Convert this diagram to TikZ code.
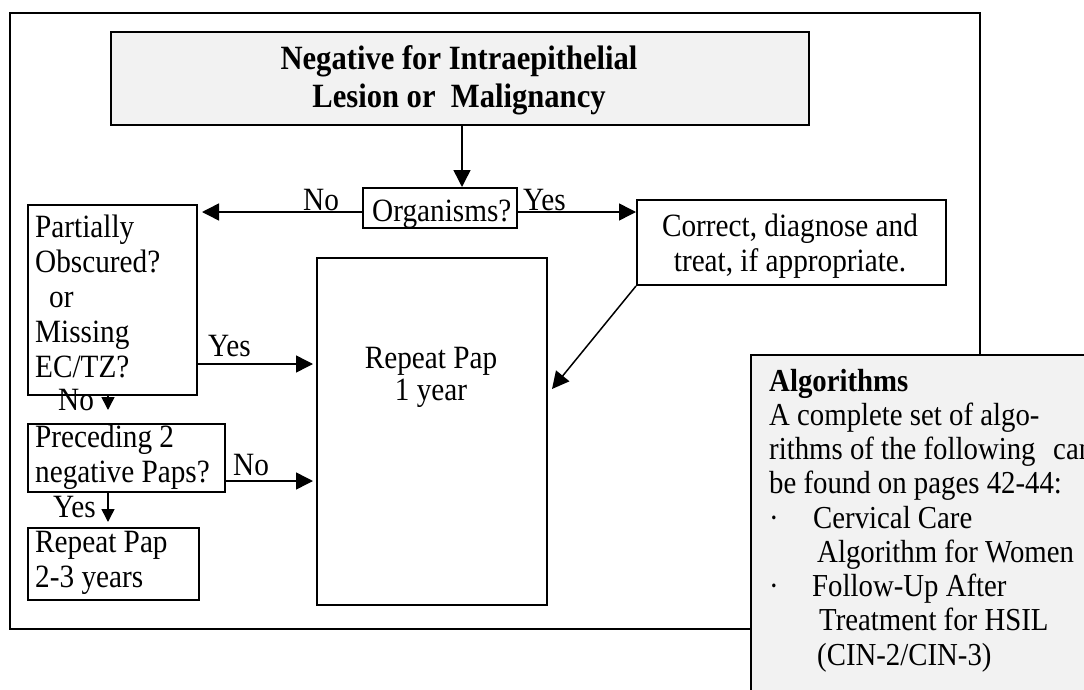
\documentclass[tikz,border=0pt]{standalone}
\usepackage{fontspec}
\setmainfont{Liberation Serif}[FakeStretch=0.9]
\usetikzlibrary{arrows.meta}
\definecolor{panel}{HTML}{F2F2F2}
\tikzset{
  frame/.style={draw, line width=2pt},
  box/.style={draw, line width=2pt, inner sep=0pt, anchor=north west},
  % multi-line texts are placed by the baseline of their last line
  txt/.style={inner sep=0pt, font=\fontsize{32.5}{35}\selectfont, align=left, anchor=base west},
  ctxt/.style={inner sep=0pt, font=\fontsize{32.5}{35}\selectfont, align=center, anchor=base},
  ttl/.style={inner sep=0pt, font=\fontsize{34}{38}\selectfont\bfseries, align=center, anchor=base},
  lbl/.style={inner sep=0pt, font=\fontsize{32.5}{35}\selectfont, anchor=base west},
  note/.style={inner sep=0pt, font=\fontsize{32}{34.25}\selectfont, align=left, anchor=base west},
  arr/.style={line width=1.5pt, -{Triangle[length=17pt,width=17pt]}},
  sarr/.style={line width=1.5pt, -{Triangle[length=13pt,width=13pt]}},
}
\begin{document}
\begin{tikzpicture}[x=1pt,y=-1pt]
\useasboundingbox (0,0) rectangle (1084,690);
\fill[white] (0,0) rectangle (1084,690);

% outer frame
\draw[frame] (10,13) rectangle (980,629);

% boxes
\node[box, fill=panel, minimum width=698, minimum height=93] (top) at (110,31) {};
\node[box, minimum width=154, minimum height=40] (org) at (362,187) {};
\node[box, minimum width=169, minimum height=190] (part) at (27,204) {};
\node[box, minimum width=309, minimum height=85] (corr) at (636,199) {};
\node[box, minimum width=230, minimum height=347] (rep1) at (316,257) {};
\node[box, minimum width=197, minimum height=68] (prec) at (27,423) {};
\node[box, minimum width=171, minimum height=72] (rep2) at (27,527) {};

% box texts
\node[ttl] (topt) at (459,108) {Negative for Intraepithelial\\Lesion or\ \ Malignancy};
\node[txt] (orgt) at (372,221) {Organisms?};
\node[txt] (partt) at (35,377) {Partially\\Obscured?\\\hspace*{14pt}or\\Missing\\EC/TZ?};
\node[ctxt] (corrt) at (790,271) {Correct, diagnose and\\treat, if appropriate.};
\node[ctxt] (rep1t) at (431,400) {Repeat Pap\\[-3pt]1 year};
\node[txt] (prect) at (35,482) {Preceding 2\\negative Paps?};
\node[txt] (rep2t) at (35,587) {Repeat Pap\\2-3 years};

% connectors
\coordinate (ax) at (462,0);
\coordinate (ay) at (0,212);
\coordinate (by) at (0,364);
\coordinate (cx) at (108,0);
\coordinate (dy) at (0,481);
\coordinate (dtip) at (552,389);
\draw[arr] (top.south -| ax) -- (org.north -| ax);
\draw[arr, shorten >=4pt] (org.west |- ay) -- (part.east |- ay);
\draw[arr] (org.east |- ay) -- (corr.west |- ay);
\draw[arr, shorten >=3pt] (part.east |- by) -- (rep1.west |- by);
\draw[sarr, shorten >=13pt] (part.south -| cx) -- (prec.north -| cx);
\draw[arr, shorten >=3pt] (prec.east |- dy) -- (rep1.west |- dy);
\draw[sarr, shorten >=5pt] (prec.south -| cx) -- (rep2.north -| cx);
\draw[arr] (corr.south west) -- (dtip);

% connector labels
\node[lbl] (l1) at (303,210) {No};
\node[lbl] (l2) at (523,210) {Yes};
\node[lbl] (l3) at (208,356) {Yes};
\node[lbl] (l4) at (58,410) {No};
\node[lbl] (l5) at (233,475) {No};
\node[lbl] (l6) at (53,517) {Yes};

% reference panel, cut at the page edges
\begin{scope}
\clip (0,0) rectangle (1084,690);
\node[box, fill=panel, minimum width=400, minimum height=400] (alg) at (750,354) {};
\node[note] (algt) at (769,665) {\textbf{Algorithms}\\
A complete set of algo-\\
\makebox[284pt][l]{rithms of the following}can\\
be found on pages 42-44:\\
\makebox[44pt][l]{·}Cervical Care\\
\hspace*{48pt}Algorithm for Women\\
\makebox[43pt][l]{·}Follow-Up After\\
\hspace*{50pt}Treatment for HSIL\\
\hspace*{48pt}(CIN-2/CIN-3)};
\end{scope}
\end{tikzpicture}
\end{document}
